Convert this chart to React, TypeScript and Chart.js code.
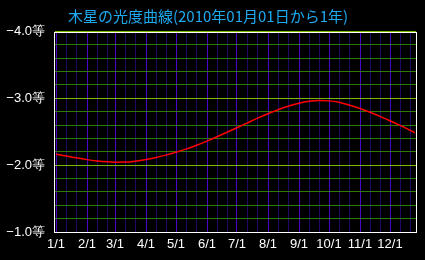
import React, { useEffect, useRef } from "react";
import { Chart, registerables } from "chart.js";

Chart.register(...registerables);

const titleText = "木星の光度曲線(2010年01月01日から1年)";
const monthLabels = ["1/1", "2/1", "3/1", "4/1", "5/1", "6/1", "7/1", "8/1", "9/1", "10/1", "11/1", "12/1"];
const monthStartDays = [0, 31, 59, 90, 120, 151, 181, 212, 243, 273, 304, 334];
const yTickValues = [-4, -3, -2, -1];
const yTickLabels = ["−4.0等", "−3.0等", "−2.0等", "−1.0等"];

const days = [0, 10, 20, 31, 41, 51, 59, 69, 79, 90, 100, 110, 120, 130, 140, 151, 161, 171, 181, 191, 201, 212, 222, 232, 243, 253, 263, 273, 283, 293, 304, 314, 324, 334, 344, 354, 359];
const magnitudes = [-2.165, -2.138, -2.11, -2.083, -2.064, -2.05, -2.044, -2.046, -2.06, -2.085, -2.115, -2.15, -2.192, -2.24, -2.295, -2.36, -2.425, -2.492, -2.56, -2.63, -2.7, -2.77, -2.83, -2.882, -2.928, -2.955, -2.966, -2.962, -2.94, -2.9, -2.848, -2.792, -2.73, -2.664, -2.595, -2.522, -2.485];

const bgPlugin = {
  id: "bg",
  beforeDraw(chart: any) {
    const ctx = chart.ctx;
    ctx.save();
    ctx.fillStyle = "#000000";
    ctx.fillRect(0, 0, chart.width, chart.height);
    ctx.restore();
  },
  afterDraw(chart: any) {
    const { ctx, chartArea } = chart;
    ctx.save();
    ctx.strokeStyle = "#ffffff";
    ctx.lineWidth = 1;
    ctx.strokeRect(
      Math.round(chartArea.left) - 0.5,
      Math.round(chartArea.top) + 0.5,
      Math.round(chartArea.right - chartArea.left) + 1,
      Math.round(chartArea.bottom - chartArea.top) - 1
    );
    ctx.restore();
  },
};

export default function App() {
  const ref = useRef<HTMLCanvasElement | null>(null);
  useEffect(() => {
    if (!ref.current) return;
    const chart = new Chart(ref.current, {
      type: "line",
      data: {
        datasets: [
          {
            data: days.map((d, i) => ({ x: d, y: magnitudes[i] })),
            borderColor: "#ff0000",
            borderWidth: 1.5,
            pointRadius: 0,
            cubicInterpolationMode: "monotone",
            fill: false,
          },
        ],
      },
      options: {
        responsive: false,
        animation: false,
        layout: { padding: { left: 0, right: 9, top: 0, bottom: 0 } },
        plugins: {
          legend: { display: false },
          tooltip: { enabled: false },
          title: {
            display: true,
            text: titleText,
            color: "#1eaaf0",
            font: { family: "'Noto Sans CJK JP', sans-serif", size: 15, weight: "normal", lineHeight: 1.1 },
            padding: { top: 8, bottom: 7 },
          },
        },
        scales: {
          x: {
            type: "linear",
            min: -1,
            max: 360,
            afterBuildTicks(scale: any) {
              const t: any[] = [];
              monthStartDays.forEach((s) => {
                t.push({ value: s });
                t.push({ value: s + 10 });
                t.push({ value: s + 20 });
              });
              scale.ticks = t;
            },
            afterFit(scale: any) {
              scale.height = 28;
            },
            ticks: {
              autoSkip: false,
              maxRotation: 0,
              padding: 5,
              color: "#ffffff",
              font: { family: "'Liberation Sans Narrow', 'Liberation Sans', sans-serif", size: 13 },
              callback(v: any) {
                const i = monthStartDays.indexOf(Number(v));
                return i >= 0 ? monthLabels[i] : "";
              },
            },
            grid: {
              drawTicks: false,
              color(ctx: any) {
                const v = ctx.tick ? ctx.tick.value : -999;
                return monthStartDays.indexOf(v) >= 0 ? "#4a06c8" : "#220868";
              },
              lineWidth: 1,
            },
            border: { display: false },
          },
          y: {
            type: "linear",
            min: -4,
            max: -1,
            reverse: true,
            afterBuildTicks(scale: any) {
              const t: any[] = [];
              for (let i = 0; i <= 15; i++) t.push({ value: Math.round((-4 + i * 0.2) * 10) / 10 });
              scale.ticks = t;
            },
            afterFit(scale: any) {
              scale.width = 55;
            },
            ticks: {
              autoSkip: false,
              padding: 10,
              color: "#ffffff",
              font: { family: "'Liberation Sans', sans-serif", size: 13 },
              callback(v: any) {
                const i = yTickValues.indexOf(Number(v));
                return i >= 0 ? yTickLabels[i] : "";
              },
            },
            grid: {
              drawTicks: false,
              color(ctx: any) {
                const v = ctx.tick ? ctx.tick.value : 0;
                return yTickValues.indexOf(v) >= 0 ? "#78b800" : "#2e7a00";
              },
              lineWidth: 1,
            },
            border: { display: false },
          },
        },
      },
      plugins: [bgPlugin],
    } as any);
    return () => chart.destroy();
  }, []);
  return (
    <div style={{ position: "fixed", left: 0, top: 0, width: 425, height: 260, background: "#000" }}>
      <canvas ref={ref} width={425} height={260} />
    </div>
  );
}
